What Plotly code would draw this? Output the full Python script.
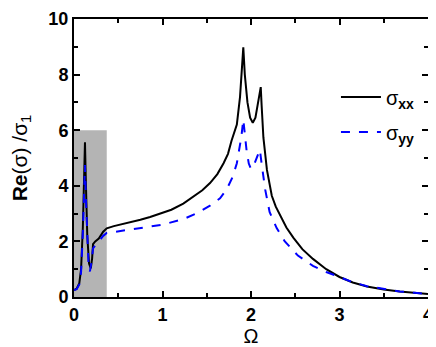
import plotly.graph_objects as go

# frequency Omega and Re(sigma)/sigma_1
omega_xx = [0, 0.03, 0.06, 0.08, 0.10, 0.115, 0.124, 0.135, 0.15, 0.17, 0.19, 0.205, 0.215,
            0.24, 0.28, 0.33, 0.37, 0.45, 0.6, 0.75, 0.86, 1.0, 1.1, 1.235, 1.35, 1.45, 1.537,
            1.62, 1.69, 1.74, 1.78, 1.84, 1.876, 1.9, 1.913, 1.93, 1.96, 1.99, 2.02, 2.05,
            2.08, 2.11, 2.12, 2.14, 2.18, 2.235, 2.28, 2.33, 2.4, 2.48, 2.58, 2.70, 2.85,
            3.0, 3.15, 3.31, 3.5, 3.68, 3.85, 4.0]
sigma_xx = [0.25, 0.3, 0.5, 1.0, 2.5, 4.5, 5.57, 4.0, 2.2, 1.2, 1.03, 1.4, 1.9,
            2.0, 2.1, 2.35, 2.47, 2.55, 2.66, 2.78, 2.88, 3.02, 3.14, 3.36, 3.6, 3.84, 4.1,
            4.42, 4.81, 5.15, 5.62, 6.2, 7.2, 8.3, 8.98, 8.0, 7.0, 6.45, 6.27, 6.45,
            7.0, 7.55, 6.9, 5.74, 4.57, 3.64, 3.25, 2.94, 2.5, 2.13, 1.72, 1.37, 1.0,
            0.72, 0.52, 0.38, 0.27, 0.2, 0.15, 0.11]

omega_yy = [0, 0.03, 0.06, 0.08, 0.10, 0.115, 0.124, 0.135, 0.15, 0.165, 0.18, 0.2, 0.215,
            0.24, 0.28, 0.33, 0.37, 0.5, 0.7, 0.86, 1.0, 1.235, 1.4, 1.537, 1.65, 1.725, 1.79,
            1.84, 1.87, 1.89, 1.913, 1.95, 1.975, 2.0, 2.04, 2.08, 2.1, 2.12, 2.16, 2.21,
            2.29, 2.38, 2.53, 2.70, 2.85, 3.0, 3.15, 3.31, 3.5, 3.68, 3.85, 4.0]
sigma_yy = [0.25, 0.28, 0.45, 0.9, 2.3, 4.0, 4.75, 3.5, 2.0, 1.1, 0.92, 1.3, 1.75,
            1.85, 2.0, 2.2, 2.3, 2.36, 2.45, 2.53, 2.6, 2.8, 3.03, 3.29, 3.55, 3.87, 4.3,
            4.81, 5.3, 5.74, 6.38, 5.27, 4.8, 4.6, 4.8, 5.15, 5.3, 4.8, 3.87, 3.06,
            2.48, 2.01, 1.49, 1.12, 0.9, 0.72, 0.53, 0.39, 0.28, 0.2, 0.15, 0.11]

FONT = 'Liberation Sans, Arial, sans-serif'

fig = go.Figure()

fig.add_trace(go.Scatter(
    x=omega_xx, y=sigma_xx, mode='lines', name='σ<sub><b>xx</b></sub>',
    line=dict(color='black', width=2), legendgroup='a'
))
fig.add_trace(go.Scatter(
    x=omega_yy, y=sigma_yy, mode='lines', name='σ<sub><b>yy</b></sub>',
    line=dict(color='#0000ff', width=2, dash='dash'), legendgroup='b'
))

# grey low-frequency band
fig.add_shape(type='rect', x0=0, x1=0.37, y0=0, y1=6, xref='x', yref='y',
              fillcolor='#b4b4b4', line=dict(width=0), layer='below')

axis_common = dict(
    showline=True, linecolor='black', linewidth=2, mirror='allticks',
    ticks='inside', ticklen=6, tickwidth=2, tickcolor='black',
    showgrid=False, zeroline=False, automargin=False, ticklabeloverflow='allow',
    tickfont=dict(family=FONT, size=18, color='black', weight='bold'),
)

fig.update_xaxes(
    **axis_common, range=[0, 4], dtick=1,
    minor=dict(dtick=0.5, ticks='inside', ticklen=4, tickwidth=1.5, tickcolor='black'),
    title=dict(text='Ω', font=dict(family=FONT, size=20, color='black'), standoff=2),
)
fig.update_yaxes(
    **axis_common, range=[0, 10], dtick=2,
    minor=dict(dtick=1, ticks='inside', ticklen=4, tickwidth=1.5, tickcolor='black'),
    title=dict(text='<b>Re</b>(σ) /σ<sub>1</sub>', font=dict(family=FONT, size=21, color='black'),
               standoff=18),
)

# the page body adds an 8px offset, so the figure is sized to fit the window
fig.update_layout(
    width=428, height=339,
    margin=dict(l=66, r=8, t=11, b=50),
    plot_bgcolor='white', paper_bgcolor='white',
    showlegend=True,
    legend=dict(x=0.74, y=0.79, xanchor='left', yanchor='top',
                bgcolor='rgba(0,0,0,0)', borderwidth=0,
                font=dict(family=FONT, size=20, color='black'),
                traceorder='grouped', tracegroupgap=6, itemwidth=40),
)

fig.write_html("out.html")
